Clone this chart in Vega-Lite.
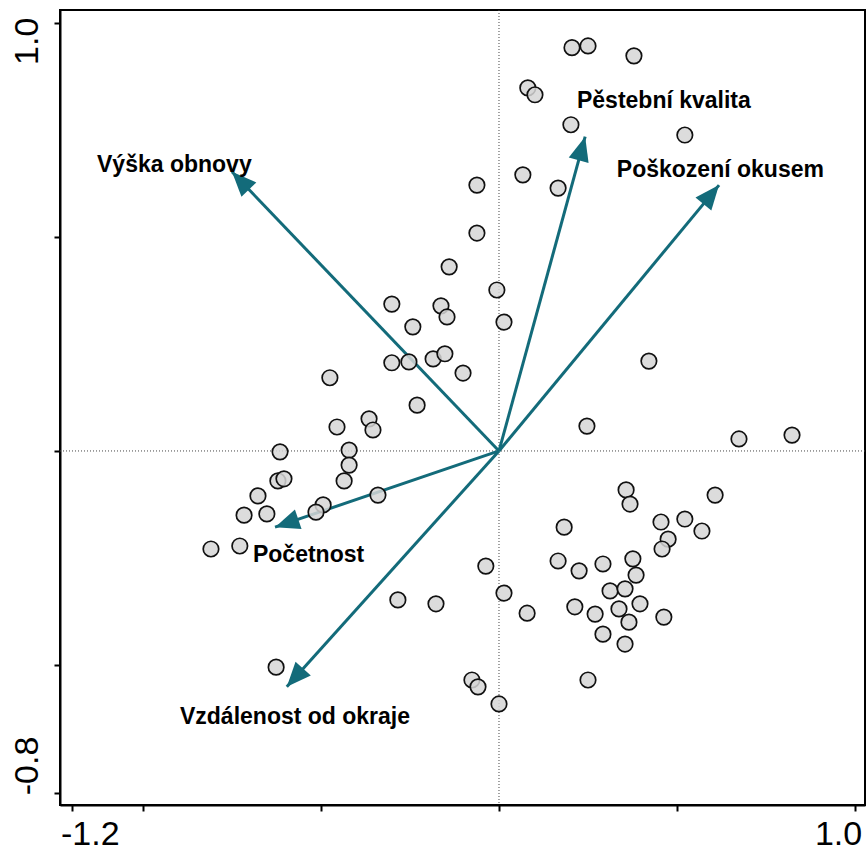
{
  "$schema": "https://vega.github.io/schema/vega-lite/v6.json",
  "width": 805,
  "height": 795,
  "autosize": {"type": "none"},
  "padding": {"left": 60, "top": 10, "right": 2, "bottom": 54},
  "background": "white",
  "config": {
    "view": {"stroke": "black", "strokeWidth": 2},
    "axis": {"title": null, "grid": false}
  },
  "datasets": {
    "samples": [
      {"x": 0.205, "y": 0.942}, {"x": 0.250, "y": 0.946}, {"x": 0.379, "y": 0.923}, {"x": 0.081, "y": 0.848},
      {"x": 0.101, "y": 0.832}, {"x": 0.202, "y": 0.762}, {"x": 0.522, "y": 0.738}, {"x": 0.067, "y": 0.645},
      {"x": 0.166, "y": 0.614}, {"x": -0.062, "y": 0.621}, {"x": -0.062, "y": 0.509}, {"x": -0.140, "y": 0.430},
      {"x": -0.006, "y": 0.376}, {"x": -0.301, "y": 0.343}, {"x": -0.163, "y": 0.339}, {"x": -0.146, "y": 0.313},
      {"x": 0.014, "y": 0.301}, {"x": -0.242, "y": 0.290}, {"x": 0.421, "y": 0.210}, {"x": -0.301, "y": 0.206},
      {"x": -0.253, "y": 0.208}, {"x": -0.185, "y": 0.215}, {"x": -0.152, "y": 0.227}, {"x": -0.101, "y": 0.182},
      {"x": -0.475, "y": 0.171}, {"x": -0.230, "y": 0.107}, {"x": -0.365, "y": 0.075}, {"x": -0.354, "y": 0.049},
      {"x": -0.455, "y": 0.056}, {"x": 0.247, "y": 0.058}, {"x": 0.674, "y": 0.028}, {"x": 0.823, "y": 0.037},
      {"x": -0.615, "y": -0.002}, {"x": -0.421, "y": 0.002}, {"x": -0.421, "y": -0.033}, {"x": -0.621, "y": -0.070},
      {"x": -0.604, "y": -0.065}, {"x": -0.435, "y": -0.070}, {"x": -0.677, "y": -0.105}, {"x": -0.340, "y": -0.103},
      {"x": -0.494, "y": -0.126}, {"x": -0.514, "y": -0.143}, {"x": -0.716, "y": -0.150}, {"x": -0.652, "y": -0.147},
      {"x": 0.357, "y": -0.091}, {"x": 0.368, "y": -0.124}, {"x": 0.607, "y": -0.103}, {"x": 0.455, "y": -0.166},
      {"x": 0.522, "y": -0.159}, {"x": 0.570, "y": -0.187}, {"x": 0.183, "y": -0.178}, {"x": 0.475, "y": -0.206},
      {"x": 0.458, "y": -0.229}, {"x": -0.809, "y": -0.229}, {"x": -0.728, "y": -0.222}, {"x": 0.166, "y": -0.257},
      {"x": -0.037, "y": -0.269}, {"x": 0.225, "y": -0.280}, {"x": 0.292, "y": -0.264}, {"x": 0.376, "y": -0.252},
      {"x": 0.385, "y": -0.290}, {"x": 0.312, "y": -0.327}, {"x": 0.354, "y": -0.322}, {"x": 0.014, "y": -0.332},
      {"x": -0.284, "y": -0.348}, {"x": -0.177, "y": -0.357}, {"x": 0.213, "y": -0.364}, {"x": 0.270, "y": -0.381},
      {"x": 0.337, "y": -0.369}, {"x": 0.396, "y": -0.357}, {"x": 0.079, "y": -0.379}, {"x": 0.463, "y": -0.388},
      {"x": 0.365, "y": -0.400}, {"x": 0.292, "y": -0.428}, {"x": 0.354, "y": -0.451}, {"x": -0.626, "y": -0.505},
      {"x": -0.076, "y": -0.535}, {"x": -0.059, "y": -0.551}, {"x": 0.250, "y": -0.535}, {"x": 0.000, "y": -0.591}
    ],
    "vectors": [
      {"name": "Výška obnovy", "x": -0.750, "y": 0.652, "lx": -1.129, "ly": 0.652},
      {"name": "Pěstební kvalita", "x": 0.242, "y": 0.734, "lx": 0.219, "ly": 0.801},
      {"name": "Poškození okusem", "x": 0.618, "y": 0.621, "lx": 0.331, "ly": 0.640},
      {"name": "Početnost", "x": -0.629, "y": -0.178, "lx": -0.691, "ly": -0.259},
      {"name": "Vzdálenost od okraje", "x": -0.596, "y": -0.551, "lx": -0.896, "ly": -0.638}
    ]
  },
  "layer": [
    {
      "data": {"values": [{"v": 0}]},
      "mark": {"type": "rule", "color": "#444444", "strokeWidth": 1, "strokeDash": [1, 2]},
      "encoding": {
        "x": {
          "field": "v", "type": "quantitative",
          "scale": {"domain": [-1.233, 1.028], "nice": false, "zero": false},
          "axis": {
            "values": [-1.2, -1, -0.5, 0, 0.5, 1],
            "labelExpr": "datum.value == -1.2 ? '-1.2' : (datum.value == 1 ? '1.0' : '')",
            "labelFont": "Liberation Sans, Arial",
            "labelFontSize": 34,
            "labelColor": "black",
            "labelPadding": 6,
            "labelOffset": {"condition": {"test": "datum.value == -1.2", "value": 18}, "value": -17},
            "tickSize": 6, "tickWidth": 2, "tickColor": "black",
            "domainColor": "black", "domainWidth": 2,
            "labelOverlap": false
          }
        }
      }
    },
    {
      "data": {"values": [{"v": 0}]},
      "mark": {"type": "rule", "color": "#444444", "strokeWidth": 1, "strokeDash": [1, 2]},
      "encoding": {
        "y": {
          "field": "v", "type": "quantitative",
          "scale": {"domain": [-0.827, 1.03], "nice": false, "zero": false},
          "axis": {
            "values": [-0.8, -0.5, 0, 0.5, 1],
            "labelExpr": "datum.value == -0.8 ? '-0.8' : (datum.value == 1 ? '1.0' : '')",
            "labelFont": "Liberation Sans, Arial",
            "labelFontSize": 34,
            "labelColor": "black",
            "labelAngle": 270,
            "labelPadding": 10,
            "labelOffset": {"condition": {"test": "datum.value == 1", "value": 18}, "value": -28},
            "tickSize": 6, "tickWidth": 2, "tickColor": "black",
            "domainColor": "black", "domainWidth": 2,
            "labelOverlap": false
          }
        }
      }
    },
    {
      "data": {"name": "vectors"},
      "mark": {"type": "rule", "color": "#136b7a", "strokeWidth": 3},
      "encoding": {
        "x": {"field": "x", "type": "quantitative"},
        "y": {"field": "y", "type": "quantitative"},
        "x2": {"datum": 0},
        "y2": {"datum": 0}
      }
    },
    {
      "data": {"name": "vectors"},
      "transform": [
        {"calculate": "atan2(datum.x * 356, datum.y * 428) * 180 / PI", "as": "ang"}
      ],
      "mark": {"type": "point", "shape": "M0,0L-0.42,1L0.42,1Z", "filled": true, "color": "#136b7a", "opacity": 1, "size": 2400},
      "encoding": {
        "x": {"field": "x", "type": "quantitative"},
        "y": {"field": "y", "type": "quantitative"},
        "angle": {"field": "ang", "type": "quantitative", "scale": null}
      }
    },
    {
      "data": {"name": "samples"},
      "mark": {"type": "circle", "size": 240, "fill": "#d6d6d6", "fillOpacity": 0.85, "stroke": "#111111", "strokeWidth": 1.7, "opacity": 1},
      "encoding": {
        "x": {"field": "x", "type": "quantitative"},
        "y": {"field": "y", "type": "quantitative"}
      }
    },
    {
      "data": {"name": "vectors"},
      "mark": {"type": "text", "align": "left", "baseline": "alphabetic", "font": "Liberation Sans, Arial", "fontWeight": "bold", "fontSize": 23, "color": "#000000"},
      "encoding": {
        "x": {"field": "lx", "type": "quantitative"},
        "y": {"field": "ly", "type": "quantitative"},
        "text": {"field": "name"}
      }
    }
  ]
}
